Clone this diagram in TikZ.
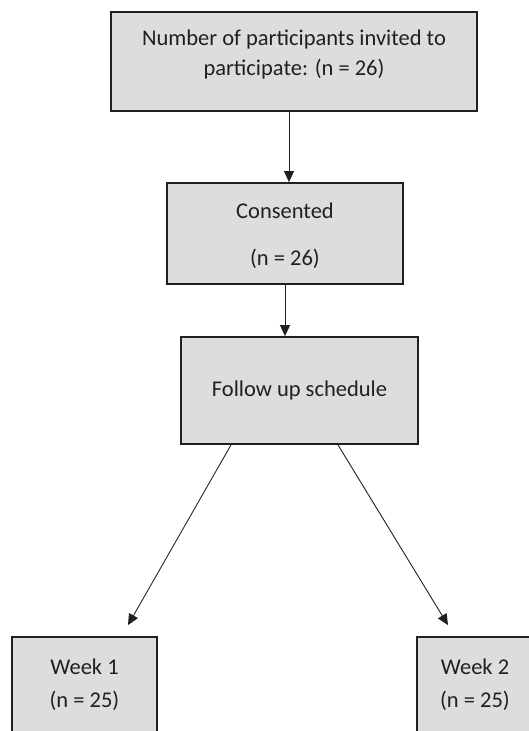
\documentclass[tikz,border=0pt]{standalone}
\usepackage{fontspec}
\setmainfont{Carlito}
\usetikzlibrary{arrows.meta}
\definecolor{boxfill}{HTML}{DCDDDF}
\definecolor{ink}{HTML}{231F20}
\tikzset{
  box/.style={draw=ink, line width=1.8pt, fill=boxfill, inner sep=0pt},
  txt/.style={text=ink, align=center, font=\fontsize{22.5}{29}\selectfont},
  conn/.style={draw=ink, line width=0.9pt, -{Triangle[length=11pt,width=10pt]}},
}
\begin{document}
\begin{tikzpicture}[x=1pt,y=-1pt]
\useasboundingbox (0,0) rectangle (529,731);
\clip (0,0) rectangle (529,731);
\node[box, minimum width=366pt, minimum height=99pt,
  label={[txt, yshift=7pt]center:Number of participants invited to\\participate: (n = 26)}] (top) at (294,61.5) {};
\node[box, minimum width=236pt, minimum height=101pt,
  label={[txt, yshift=-2pt]center:Consented\\[18pt](n = 26)}] (cons) at (285,233.5) {};
\node[box, minimum width=237pt, minimum height=107pt,
  label={[txt, yshift=0pt]center:Follow up schedule}] (fu) at (299.5,390.5) {};
\node[box, minimum width=145pt, minimum height=104pt,
  label={[txt, font=\fontsize{22.5}{33}\selectfont, yshift=4pt]center:Week 1\\(n = 25)}] (w1) at (84.5,689) {};
\node[box, minimum width=116pt, minimum height=104pt,
  label={[txt, font=\fontsize{22.5}{33}\selectfont, yshift=4pt]center:Week 2\\(n = 25)}] (w2) at (475,689) {};
\coordinate (e1) at ([xshift=43.5pt, yshift=11pt]w1.north);
\coordinate (e2) at ([xshift=-27pt, yshift=11pt]w2.north);
\draw[conn] ([xshift=-5pt]top.south) -- ([xshift=4pt]cons.north);
\draw[conn] (cons.south) -- ([xshift=-14.5pt]fu.north);
\draw[conn] ([xshift=-68.5pt]fu.south) -- (e1);
\draw[conn] ([xshift=38.5pt]fu.south) -- (e2);
\end{tikzpicture}
\end{document}
